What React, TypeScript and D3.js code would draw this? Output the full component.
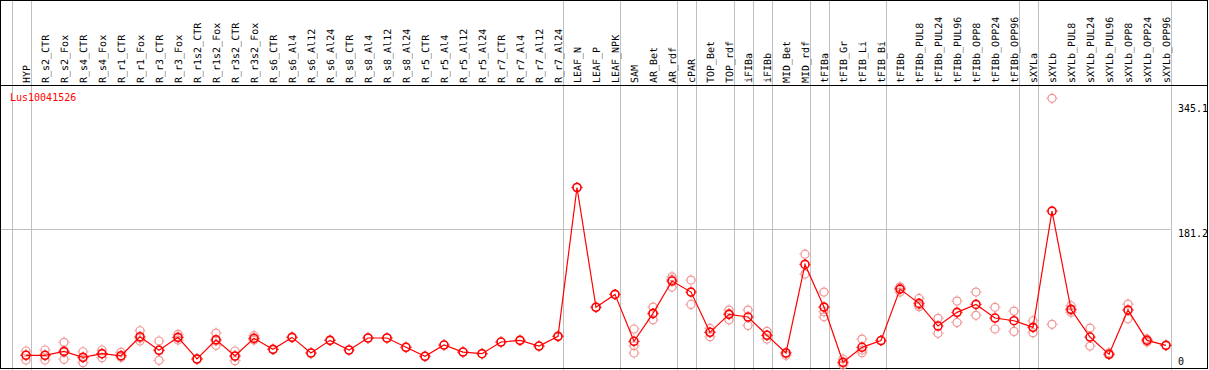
import * as d3 from 'd3'
import React, { useEffect, useRef } from 'react'

const categories = [
  'HYP', 'R_s2_CTR', 'R_s2_Fox', 'R_s4_CTR', 'R_s4_Fox', 'R_r1_CTR', 'R_r1_Fox', 'R_r3_CTR', 'R_r3_Fox',
  'R_r1s2_CTR', 'R_r1s2_Fox', 'R_r3s2_CTR', 'R_r3s2_Fox', 'R_s6_CTR', 'R_s6_Al4', 'R_s6_Al12', 'R_s6_Al24',
  'R_s8_CTR', 'R_s8_Al4', 'R_s8_Al12', 'R_s8_Al24', 'R_r5_CTR', 'R_r5_Al4', 'R_r5_Al12', 'R_r5_Al24',
  'R_r7_CTR', 'R_r7_Al4', 'R_r7_Al12', 'R_r7_Al24', 'LEAF_N', 'LEAF_P', 'LEAF_NPK', 'SAM', 'AR_Bet',
  'AR_rdf', 'cPAR', 'TOP_Bet', 'TOP_rdf', 'iFIBa', 'iFIBb', 'MID_Bet', 'MID_rdf', 'tFIBa', 'tFIB_Gr',
  'tFIB_Li', 'tFIB_Bi', 'tFIBb', 'tFIBb_PUL8', 'tFIBb_PUL24', 'tFIBb_PUL96', 'tFIBb_OPP8', 'tFIBb_OPP24',
  'tFIBb_OPP96', 'sXYLa', 'sXYLb', 'sXYLb_PUL8', 'sXYLb_PUL24', 'sXYLb_PUL96', 'sXYLb_OPP8', 'sXYLb_OPP24',
  'sXYLb_OPP96',
]

// mean expression per sample
const means = [
  19.3, 19.3, 24.3, 16.7, 21.3, 18.7, 42.8, 25.6, 42.0,
  14.6, 39.0, 18.4, 40.8, 26.8, 42.0, 22.2, 38.2,
  26.0, 41.2, 41.2, 29.4, 18.0, 32.3, 23.4, 21.3,
  36.1, 38.2, 31.0, 43.3, 232.0, 80.2, 96.5, 37.0, 72.4,
  113.4, 99.4, 48.4, 71.2, 67.8, 44.6, 22.2, 134.5, 80.4, 10.4,
  29.4, 38.0, 103.2, 85.1, 56.4, 73.7, 83.8, 66.5,
  63.1, 54.7, 202.0, 77.5, 42.4, 20.5, 76.6, 38.2,
  31.9,
]

// individual replicates
const replicates = [
  [24.7, 19.5, 13.3], [26.0, 19.0, 13.3], [35.7, 23.0, 14.2], [23.8, 16.5, 9.9], [26.0, 21.5, 16.2],
  [23.0, 16.7, 18.5], [50.4, 41.0, 37.4], [37.4, 26.0, 12.9], [45.8, 41.5, 38.6],
  [15.0, 14.2], [47.5, 37.5, 31.9], [24.7, 18.0, 12.4], [44.1, 40.0, 38.6], [26.8], [42.0], [22.2], [38.2],
  [26.0], [41.2], [41.2], [29.4], [18.0], [32.3], [23.4], [21.3],
  [36.1], [38.2], [31.0], [43.3], [232.0], [80.2], [96.5], [52.6, 31.4, 22.2], [80.4, 72.0, 64.3],
  [118.8, 115.5, 105.8], [114.6, 83.8], [53.4, 48.5, 42.8], [76.6, 72.0, 64.3], [76.6, 57.2], [49.6, 44.5, 39.9],
  [22.5, 19.3], [147.5, 122.2], [99.4, 68.1, 74.5], [14.6, 9.5, 7.0],
  [39.9, 26.0, 22.5], [38.0], [106.1, 104.0, 99.4], [91.4, 83.0, 80.8], [66.1, 47.1], [88.0, 61.0],
  [99.4, 69.9], [80.1, 52.6],
  [75.4, 49.6], [63.1, 47.9], [345.1, 58.5], [82.1, 76.5, 73.7], [53.8, 31.0], [22.5, 20.0],
  [84.2, 65.6], [36.1, 40.0], [31.9],
]

// last sample of each group (grey separators)
const groupEnds = [
  'HYP', 'R_r7_Al24', 'LEAF_NPK', 'AR_rdf', 'cPAR', 'TOP_rdf', 'iFIBa', 'iFIBb', 'MID_rdf', 'tFIBa',
  'tFIB_Bi', 'tFIBb_OPP96', 'sXYLa', 'sXYLb_OPP96',
]

const yTicks = [345.1, 181.2, 0]
const gridValues = [181.2]
const geneId = 'Lus10041526'

const W = 1209
const H = 370
const FONT = '"DejaVu Sans Mono", monospace'

const App = () => {
  const ref = useRef<SVGSVGElement>(null)

  useEffect(() => {
    const svg = d3.select(ref.current)
    svg.selectAll('*').remove()

    const x = d3.scalePoint<string>().domain(categories).range([26, 1166])
    const y = d3.scaleLinear().domain([0, 345.1]).range([370.5, 98.3])
    const plotRight = (x(categories[categories.length - 1]) as number) + 4.5
    const headerY = 85.5

    svg.append('rect').attr('width', W).attr('height', H).attr('fill', '#fff')

    // horizontal grid
    svg
      .selectAll('line.grid')
      .data(gridValues)
      .join('line')
      .attr('x1', 1)
      .attr('x2', plotRight)
      .attr('y1', (d) => Math.round(y(d)) + 1.5)
      .attr('y2', (d) => Math.round(y(d)) + 1.5)
      .attr('stroke', '#c0c0c0')

    // group separators
    const seps = [(x(categories[0]) as number) - 14.5, ...groupEnds.map((g) => (x(g) as number) + 4.5)]
    svg
      .selectAll('line.sep')
      .data(seps)
      .join('line')
      .attr('x1', (d) => Math.round(d) + 0.5)
      .attr('x2', (d) => Math.round(d) + 0.5)
      .attr('y1', 0)
      .attr('y2', H)
      .attr('stroke', '#c0c0c0')

    // header labels
    svg
      .append('g')
      .selectAll('text')
      .data(categories)
      .join('text')
      .attr('transform', (d) => `translate(${(x(d) as number) + 3.5},83) rotate(-90)`)
      .attr('font-family', FONT)
      .attr('font-size', 10)
      .attr('text-rendering', 'geometricPrecision')
      .attr('fill', '#000')
      .text((d) => d)

    // frame
    svg
      .append('rect')
      .attr('x', 0.5)
      .attr('y', 0.5)
      .attr('width', 1207)
      .attr('height', 368)
      .attr('fill', 'none')
      .attr('stroke', '#000')
    svg
      .append('line')
      .attr('x1', 0)
      .attr('x2', W - 1)
      .attr('y1', headerY)
      .attr('y2', headerY)
      .attr('stroke', '#000')

    svg
      .append('text')
      .attr('x', 10)
      .attr('y', 101)
      .attr('font-family', FONT)
      .attr('font-size', 10)
      .attr('fill', '#f00')
      .text(geneId)

    // y tick labels
    svg
      .selectAll('text.ytick')
      .data(yTicks)
      .join('text')
      .attr('x', 1178)
      .attr('y', (d) => Math.min(365, Math.max(112, y(d) + 9)))
      .attr('font-family', FONT)
      .attr('font-size', 10)
      .attr('fill', '#000')
      .text((d) => String(d))

    const marker = (g: any, cx: number, cy: number, color: string, sw: number) => {
      g.append('circle').attr('cx', cx).attr('cy', cy).attr('r', 4).attr('fill', 'none').attr('stroke', color).attr('stroke-width', sw)
      const ticks = [[0, -1], [0, 1], [-1, 0], [1, 0]]
      ticks.forEach(([dx, dy]) => {
        g.append('line')
          .attr('x1', cx + dx * 4.5)
          .attr('y1', cy + dy * 4.5)
          .attr('x2', cx + dx * 5.5)
          .attr('y2', cy + dy * 5.5)
          .attr('stroke', color)
          .attr('stroke-width', 1.2)
      })
    }

    // replicates
    const repG = svg.append('g')
    replicates.forEach((reps, i) => {
      reps.forEach((v) => marker(repG, x(categories[i]) as number, y(v), '#f09494', 1.2))
    })

    // mean line
    const line = d3
      .line<number>()
      .x((_, i) => x(categories[i]) as number)
      .y((d) => y(d))
    svg.append('path').datum(means).attr('d', line).attr('fill', 'none').attr('stroke', '#f00').attr('stroke-width', 1.2)

    const meanG = svg.append('g')
    means.forEach((v, i) => marker(meanG, x(categories[i]) as number, y(v), '#f00', 1.6))
  }, [])

  return <svg ref={ref} width={W} height={H} style={{ position: 'absolute', left: 0, top: 0 }} />
}

export default App
